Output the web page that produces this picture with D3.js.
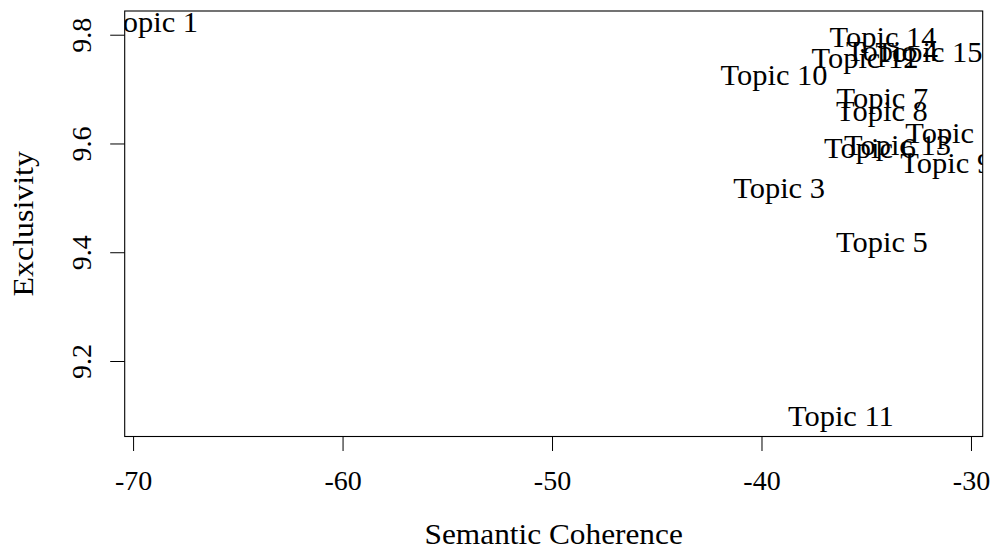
<!DOCTYPE html>
<html>
<head>
<meta charset="utf-8">
<script src="https://cdn.jsdelivr.net/npm/d3@7"></script>
<style>
  html, body { margin: 0; padding: 0; background: #fff; }
  svg { display: block; }
  text { font-family: "Liberation Serif", "Times New Roman", serif; fill: #000; }
</style>
</head>
<body>
<svg id="chart" width="995" height="555"></svg>
<script>
// Topic quality: semantic coherence vs exclusivity, one label per topic
const topics = ["Topic 1", "Topic 2", "Topic 3", "Topic 4", "Topic 5",
                "Topic 6", "Topic 7", "Topic 8", "Topic 9", "Topic 10",
                "Topic 11", "Topic 12", "Topic 13", "Topic 14", "Topic 15"];
const semanticCoherence = [-69.09, -30.95, -39.16, -33.77, -34.25,
                           -34.82, -34.23, -34.25, -31.18, -39.40,
                           -36.21, -35.06, -33.51, -34.20, -32.00];
const exclusivity = [9.8145, 9.6104, 9.5093, 9.7612, 9.4100,
                     9.5828, 9.6748, 9.6509, 9.5552, 9.7171,
                     9.0900, 9.7478, 9.5883, 9.7875, 9.7603];
const xTicks = [-70, -60, -50, -40, -30];
const yTicks = [9.2, 9.4, 9.6, 9.8];
const xTitle = "Semantic Coherence";
const yTitle = "Exclusivity";

const svg = d3.select("#chart");
const plot = { left: 124.7, right: 982.7, top: 11, bottom: 436.5 };

const x = d3.scaleLinear().domain([-70.4, -29.44]).range([plot.left, plot.right]);
const y = d3.scaleLinear().domain([9.0612, 9.8436]).range([plot.bottom, plot.top]);

// widen the serif glyphs slightly so the lettering has a roomier, book-like set
function widen(sel, k) {
  sel.each(function () {
    const w = this.getComputedTextLength();
    d3.select(this).attr("textLength", w * k).attr("lengthAdjust", "spacingAndGlyphs");
  });
}

// clip labels to the plotting region
svg.append("defs").append("clipPath").attr("id", "plot-clip")
  .append("rect")
  .attr("x", plot.left).attr("y", plot.top)
  .attr("width", plot.right - plot.left).attr("height", plot.bottom - plot.top);

// x axis
const xAxis = svg.append("g")
  .attr("transform", `translate(0,${plot.bottom})`)
  .call(d3.axisBottom(x).tickValues(xTicks).tickSize(14.5).tickSizeOuter(0)
        .tickFormat(d => String(d)));
xAxis.select(".domain").remove();
xAxis.selectAll(".tick line").attr("stroke", "#000").attr("stroke-width", 1);
xAxis.selectAll(".tick text")
  .attr("y", 53.5).attr("dy", null)
  .style("font-size", "28px")
  .style("font-family", "'Liberation Serif', serif");

// y axis with rotated tick labels
const yAxis = svg.append("g")
  .attr("transform", `translate(${plot.left},0)`)
  .call(d3.axisLeft(y).tickValues(yTicks).tickSize(14.5).tickSizeOuter(0)
        .tickFormat(d3.format(".1f")));
yAxis.select(".domain").remove();
yAxis.selectAll(".tick line").attr("stroke", "#000").attr("stroke-width", 1);
yAxis.selectAll(".tick text")
  .attr("x", null).attr("dy", null)
  .attr("text-anchor", "middle")
  .attr("transform", "translate(-34,0) rotate(-90)")
  .style("font-size", "28px")
  .style("font-family", "'Liberation Serif', serif");

// plot frame
svg.append("rect")
  .attr("x", plot.left).attr("y", plot.top)
  .attr("width", plot.right - plot.left).attr("height", plot.bottom - plot.top)
  .attr("fill", "none").attr("stroke", "#000").attr("stroke-width", 1.1);

// axis titles
svg.append("text")
  .attr("x", (plot.left + plot.right) / 2).attr("y", 544)
  .attr("text-anchor", "middle")
  .style("font-size", "29px")
  .text(xTitle)
  .call(widen, 1.08);

svg.append("text")
  .attr("transform", `translate(33,${(plot.top + plot.bottom) / 2}) rotate(-90)`)
  .attr("text-anchor", "middle")
  .style("font-size", "29px")
  .text(yTitle)
  .call(widen, 1.1);

// topic labels placed at (coherence, exclusivity)
const points = topics.map((t, i) => ({ label: t, sc: semanticCoherence[i], ex: exclusivity[i] }));
svg.append("g").attr("clip-path", "url(#plot-clip)")
  .selectAll("text")
  .data(points)
  .join("text")
  .attr("x", d => x(d.sc))
  .attr("y", d => y(d.ex))
  .attr("dy", "0.18em")
  .attr("text-anchor", "middle")
  .style("font-size", "29px")
  .text(d => d.label)
  .call(widen, 1.05);
</script>
</body>
</html>
